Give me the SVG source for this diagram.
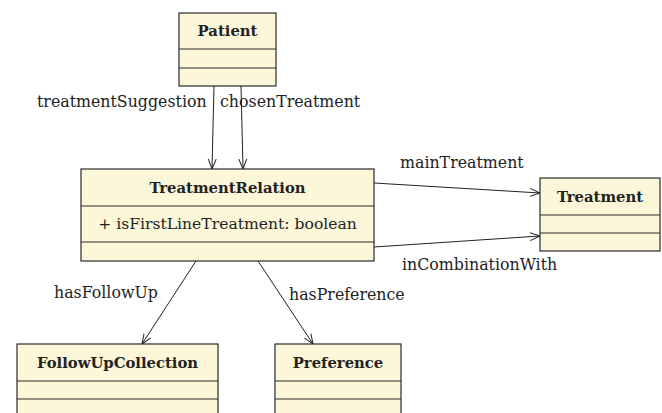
<svg xmlns="http://www.w3.org/2000/svg" width="662" height="413" viewBox="0 0 662 413">
<style>
.box{fill:#fcf7d9;stroke:#2a2a2a;stroke-width:1.2}
.sep{stroke:#2a2a2a;stroke-width:1.2}
.name{font-family:"DejaVu Serif",serif;font-weight:bold;font-size:14.8px;fill:#222;text-anchor:middle}
.attr{font-family:"DejaVu Serif",serif;font-size:15.6px;fill:#222;text-anchor:middle}
.lbl{font-family:"DejaVu Serif",serif;font-size:15.8px;fill:#222}
.edge{stroke:#222;stroke-width:1;fill:none;marker-end:url(#arr)}
</style>
<defs>
<marker id="arr" viewBox="0 0 10 10" refX="10" refY="5" markerWidth="10" markerHeight="10" markerUnits="userSpaceOnUse" orient="auto">
<path d="M0,1 L10,5 L0,9" fill="none" stroke="#222" stroke-width="1"/>
</marker>
</defs>
<rect width="662" height="413" fill="#fff"/>
<g id="Patient">
<rect class="box" x="179" y="13" width="97" height="73"/>
<line class="sep" x1="179" y1="49" x2="276" y2="49"/>
<line class="sep" x1="179" y1="68" x2="276" y2="68"/>
<text class="name" x="227.5" y="36">Patient</text>
</g>
<g id="TreatmentRelation">
<rect class="box" x="81" y="169" width="293" height="92"/>
<line class="sep" x1="81" y1="206" x2="374" y2="206"/>
<line class="sep" x1="81" y1="242" x2="374" y2="242"/>
<text class="name" x="227.5" y="193">TreatmentRelation</text>
<text class="attr" x="227.5" y="229">+ isFirstLineTreatment: boolean</text>
</g>
<g id="Treatment">
<rect class="box" x="540" y="178" width="120" height="73"/>
<line class="sep" x1="540" y1="215" x2="660" y2="215"/>
<line class="sep" x1="540" y1="233" x2="660" y2="233"/>
<text class="name" x="600" y="202">Treatment</text>
</g>
<g id="FollowUpCollection">
<rect class="box" x="17" y="344" width="201" height="80"/>
<line class="sep" x1="17" y1="381" x2="218" y2="381"/>
<line class="sep" x1="17" y1="399" x2="218" y2="399"/>
<text class="name" x="117.5" y="368">FollowUpCollection</text>
</g>
<g id="Preference">
<rect class="box" x="275" y="344" width="126" height="80"/>
<line class="sep" x1="275" y1="381" x2="401" y2="381"/>
<line class="sep" x1="275" y1="399" x2="401" y2="399"/>
<text class="name" x="338" y="368">Preference</text>
</g>
<g id="connectors">
<line class="edge" x1="214" y1="86" x2="212" y2="169"/>
<line class="edge" x1="241" y1="86" x2="243" y2="169"/>
<line class="edge" x1="374" y1="183" x2="540" y2="193"/>
<line class="edge" x1="374" y1="247" x2="540" y2="236"/>
<line class="edge" x1="196" y1="261" x2="142" y2="344"/>
<line class="edge" x1="258" y1="261" x2="313" y2="344"/>
<text class="lbl" x="37" y="107">treatmentSuggestion</text>
<text class="lbl" x="220" y="107">chosenTreatment</text>
<text class="lbl" x="400" y="168">mainTreatment</text>
<text class="lbl" x="402" y="270">inCombinationWith</text>
<text class="lbl" x="54" y="298">hasFollowUp</text>
<text class="lbl" x="289" y="300">hasPreference</text>
</g>
</svg>
